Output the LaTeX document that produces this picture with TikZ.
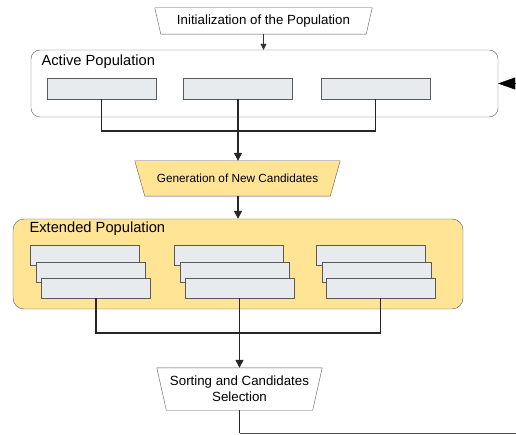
\documentclass[tikz,border=0pt]{standalone}
\usepackage{fontspec}
\setmainfont{Liberation Sans}
\usepackage{xcolor}
\definecolor{boxGray}{RGB}{89,89,89}
\definecolor{indFill}{RGB}{232,235,237}
\definecolor{popYellow}{RGB}{255,228,150}
\usetikzlibrary{shapes.geometric,arrows.meta,positioning}

\begin{document}
\begin{tikzpicture}[x=1pt,y=-1pt,
	popbox/.style={draw=boxGray, thin, rounded corners=9pt, inner sep=0pt},
	indiv/.style={draw=boxGray, fill=indFill, thin, minimum width=109pt, minimum height=20.5pt, inner sep=0pt},
	stepnode/.style={inner sep=0pt, align=center},
	trapline/.style={draw=boxGray, thin},
	link/.style={line width=1.4pt, black!85},
	feed/.style={link, -{Triangle[length=8pt,width=8pt]}}]
			\useasboundingbox (0,0) rectangle (516,435);

			% Initialization step on top (trapezium, wider on top)
			\node[stepnode, minimum width=205pt, minimum height=26pt, font=\fontsize{13.3}{15}\selectfont] (init) at (263.5,21) {Initialization of the Population};
			\draw[trapline] ([xshift=-6pt]init.north west) -- ([xshift=6pt]init.north east) -- (init.south east) -- (init.south west) -- cycle;

			% Active population box with its individuals
			\node[popbox, minimum width=467pt, minimum height=67pt] (active) at (264.5,83.5) {};
			\node[anchor=west, font=\fontsize{14.7}{16}\selectfont] (activeLbl) at (38,62) {Active Population};
			\node[indiv] (act1) at (101.5,88.5) {};
			\node[indiv] (act2) at (238,88.5) {};
			\node[indiv] (act3) at (375.5,88.5) {};

			% Generation step
			\node[stepnode, minimum width=185pt, minimum height=35pt] (gen) at (237.5,178.5) {};
			\filldraw[trapline, fill=popYellow] ([xshift=-10pt]gen.north west) -- ([xshift=10pt]gen.north east) -- (gen.south east) -- (gen.south west) -- cycle;
			\node[font=\fontsize{11.8}{13}\selectfont] (genLbl) at (gen) {Generation of New Candidates};

			% Extended population box with its individuals
			\node[popbox, fill=popYellow, rounded corners=11pt, minimum width=450pt, minimum height=90pt] (ext) at (238,264) {};
			\node[anchor=west, font=\fontsize{14.7}{16}\selectfont] (extLbl) at (26,229) {Extended Population};
			\foreach \g/\xa/\xb/\xc in {1/84.5/90.5/96, 2/228.5/235/239.5, 3/370.5/376.5/380.5} {
				\node[indiv] (ext\g a) at (\xa,255) {};
				\node[indiv] (ext\g b) at (\xb,272) {};
				\node[indiv] (ext\g c) at (\xc,288) {};
			}

			% Sorting step
			\node[stepnode, minimum width=146pt, minimum height=42pt, font=\fontsize{13.3}{16}\selectfont] (sort) at (239.5,389) {Sorting and Candidates\\Selection};
			\draw[trapline] ([xshift=-9.5pt]sort.north west) -- ([xshift=9.5pt]sort.north east) -- (sort.south east) -- (sort.south west) -- cycle;

			% Join points
			\coordinate (joinA) at (238,131);
			\coordinate (joinB) at (239.5,333);
			\coordinate (loopCorner) at (239.5,433);
			\coordinate (loopEnd) at (516,433);
			\coordinate (backIn) at (516,83.5);

			% Draw connections
			\draw[thin, black!80, -{Triangle[length=6pt,width=6pt]}] (init.south) -- (active.north -| init);
			\draw[link] (act1.south) |- (joinA) -| (act3.south);
			\draw[link] (act2.south) -- (joinA);
			\draw[feed] (joinA) -- (gen.north -| joinA);
			\draw[feed] (gen.south -| ext.north) -- (ext.north);
			\draw[link] (ext1c.south) |- (joinB) -| (ext3c.south);
			\draw[link] (ext2c.south) -- (ext2c.south |- joinB);
			\draw[feed] (ext2c.south |- joinB) -- (sort.north);
			\draw[line width=1.8pt, black!85] (sort.south) -- (loopCorner);
			\draw[thin, black!70] (loopCorner) -- (loopEnd);
			\draw[thin, -{Triangle[length=17pt,width=12pt]}] (backIn) -- (active.east);
		\end{tikzpicture}
\end{document}
